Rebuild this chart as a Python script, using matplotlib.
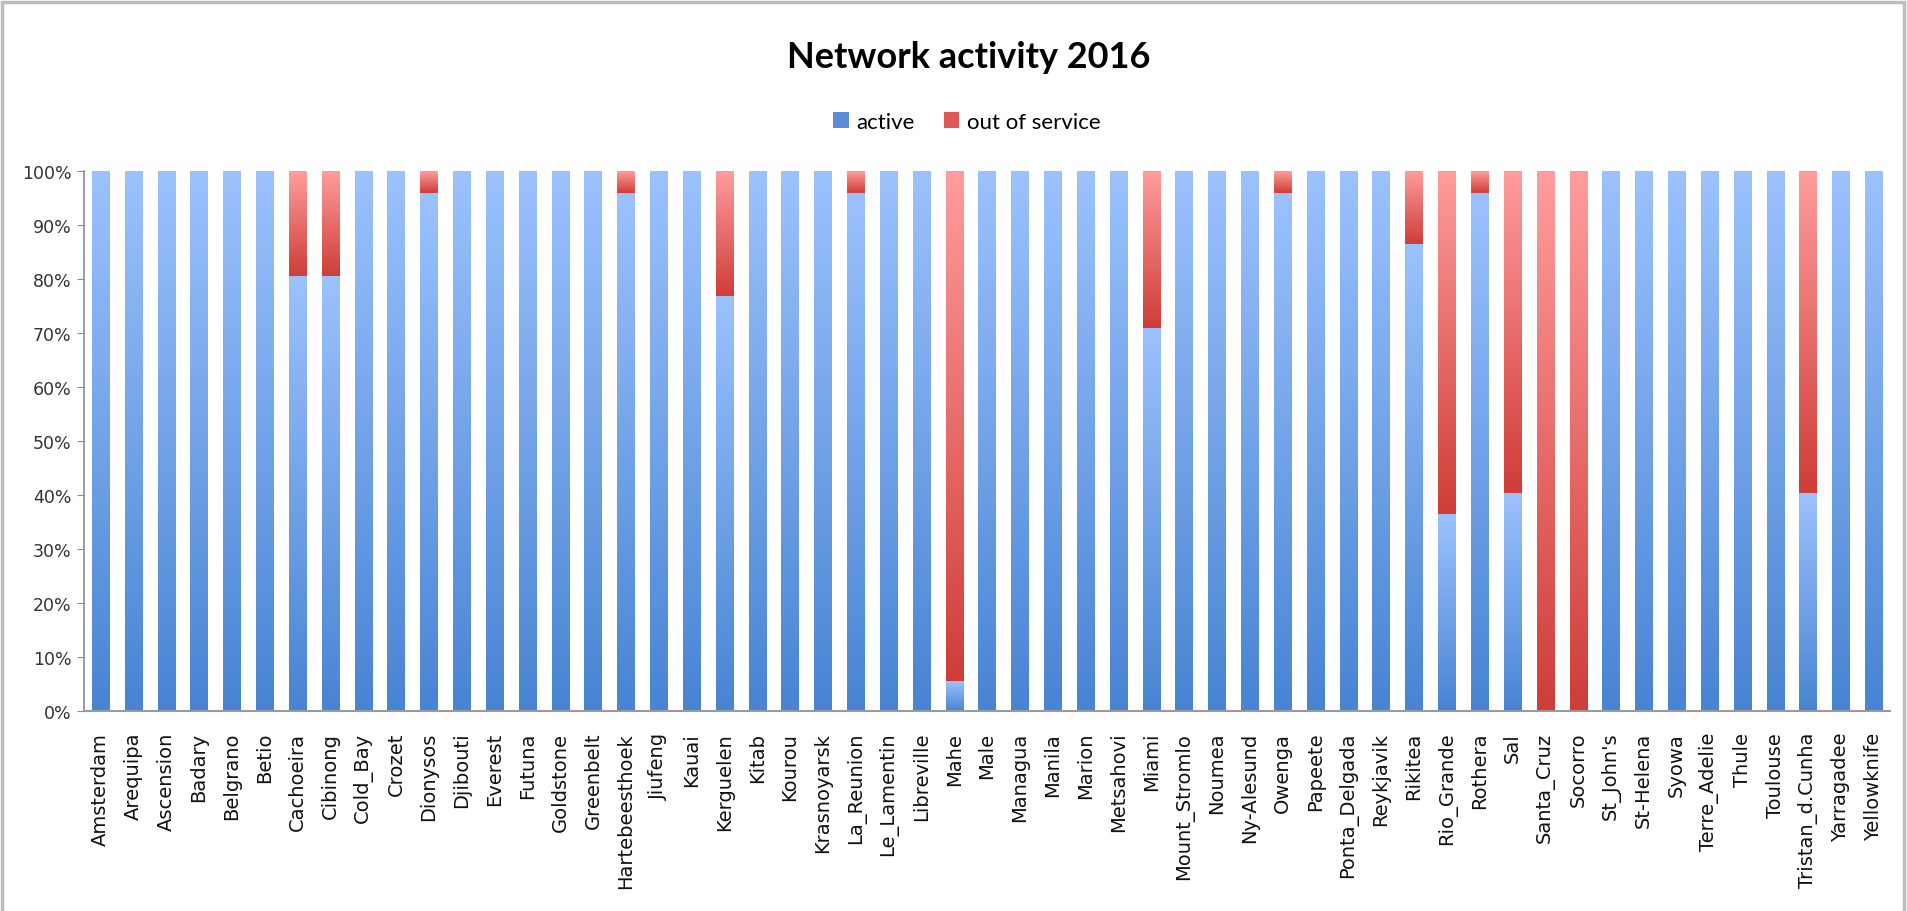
import numpy as np
import matplotlib.pyplot as plt
from matplotlib.colors import LinearSegmentedColormap
from matplotlib.patches import Patch, Rectangle

stations = ['Amsterdam', 'Arequipa', 'Ascension', 'Badary', 'Belgrano', 'Betio',
            'Cachoeira', 'Cibinong', 'Cold_Bay', 'Crozet', 'Dionysos', 'Djibouti',
            'Everest', 'Futuna', 'Goldstone', 'Greenbelt', 'Hartebeesthoek', 'Jiufeng',
            'Kauai', 'Kerguelen', 'Kitab', 'Kourou', 'Krasnoyarsk', 'La_Reunion',
            'Le_Lamentin', 'Libreville', 'Mahe', 'Male', 'Managua', 'Manila', 'Marion',
            'Metsahovi', 'Miami', 'Mount_Stromlo', 'Noumea', 'Ny-Alesund', 'Owenga',
            'Papeete', 'Ponta_Delgada', 'Reykjavik', 'Rikitea', 'Rio_Grande', 'Rothera',
            'Sal', 'Santa_Cruz', 'Socorro', "St_John's", 'St-Helena', 'Syowa',
            'Terre_Adelie', 'Thule', 'Toulouse', 'Tristan_d.Cunha', 'Yarragadee',
            'Yellowknife']

# percent of the year
active = [100, 100, 100, 100, 100, 100, 80.6, 80.6, 100, 100, 96, 100,
          100, 100, 100, 100, 96, 100, 100, 76.9, 100, 100, 100, 96,
          100, 100, 5.5, 100, 100, 100, 100, 100, 71, 100, 100, 100, 96,
          100, 100, 100, 86.4, 36.4, 96, 40.3, 0, 0, 100, 100, 100,
          100, 100, 100, 40.3, 100, 100]
out_of_service = [0, 0, 0, 0, 0, 0, 19.4, 19.4, 0, 0, 4, 0,
                  0, 0, 0, 0, 4, 0, 0, 23.1, 0, 0, 0, 4,
                  0, 0, 94.5, 0, 0, 0, 0, 0, 29, 0, 0, 0, 4,
                  0, 0, 0, 13.6, 63.6, 4, 59.7, 100, 100, 0, 0, 0,
                  0, 0, 0, 59.7, 0, 0]

blue_cmap = LinearSegmentedColormap.from_list('blue', ['#4884d3', '#9cc2fd'])
red_cmap = LinearSegmentedColormap.from_list('red', ['#cf3d38', '#ff9d9d'])

fig = plt.figure(figsize=(19.07, 9.12), dpi=100)
ax = fig.add_axes([84 / 1907, 1 - 712 / 912, (1890 - 84) / 1907, (712 - 172) / 912])

x = np.arange(len(stations))
bars_a = ax.bar(x, active, width=0.52, color='none', linewidth=0)
bars_o = ax.bar(x, out_of_service, width=0.52, bottom=active, color='none', linewidth=0)

# vertical gradient in every segment, dark at the bottom
grad = np.linspace(0, 1, 256).reshape(-1, 1)
for bars, cmap in [(bars_a, blue_cmap), (bars_o, red_cmap)]:
    for b in bars:
        h = b.get_height()
        if h <= 0:
            continue
        x0, y0, w = b.get_x(), b.get_y(), b.get_width()
        im = ax.imshow(grad, cmap=cmap, origin='lower', aspect='auto',
                       extent=[x0, x0 + w, y0, y0 + h], zorder=2)
        im.set_clip_path(b)

ax.set_xlim(-0.5, len(stations) - 0.5)
ax.set_ylim(0, 100)
ax.set_yticks(np.arange(0, 101, 10))
ax.set_yticklabels([f'{v}%' for v in range(0, 101, 10)])
ax.set_xticks(x)
ax.set_xticklabels(stations, rotation=90)

for s in ['top', 'right']:
    ax.spines[s].set_visible(False)
ax.spines['left'].set_color('#8c8c8c')
ax.spines['bottom'].set_color('#9a9a9a')
ax.spines['left'].set_linewidth(1.2)
ax.spines['bottom'].set_linewidth(1.5)
ax.tick_params(axis='y', length=5, color='#8c8c8c', labelsize=12.5,
               labelcolor='#333333', pad=4)
ax.tick_params(axis='x', length=0, labelsize=14, labelcolor='#111111', pad=15)

fig.text(0.508, 1 - 58 / 912, 'Network activity 2016', ha='center', va='center',
         fontsize=26, fontweight='bold', family='Lato')

handles = [Patch(facecolor='#5a8fd8', label='active'),
           Patch(facecolor='#e05858', label='out of service')]
fig.legend(handles=handles, loc='center', bbox_to_anchor=(0.507, 1 - 123 / 912),
           ncol=2, frameon=False, prop={'family': 'Lato', 'size': 16},
           handlelength=0.7, handleheight=0.7, handletextpad=0.35,
           columnspacing=1.3)

# chart frame
fig.patches.append(Rectangle((2 / 1907, -0.01), 1 - 5 / 1907, 1 - 3 / 912 + 0.01,
                             transform=fig.transFigure, fill=False,
                             edgecolor='#bdbdbd', linewidth=2.5))

fig.savefig('out.png', dpi=100)
